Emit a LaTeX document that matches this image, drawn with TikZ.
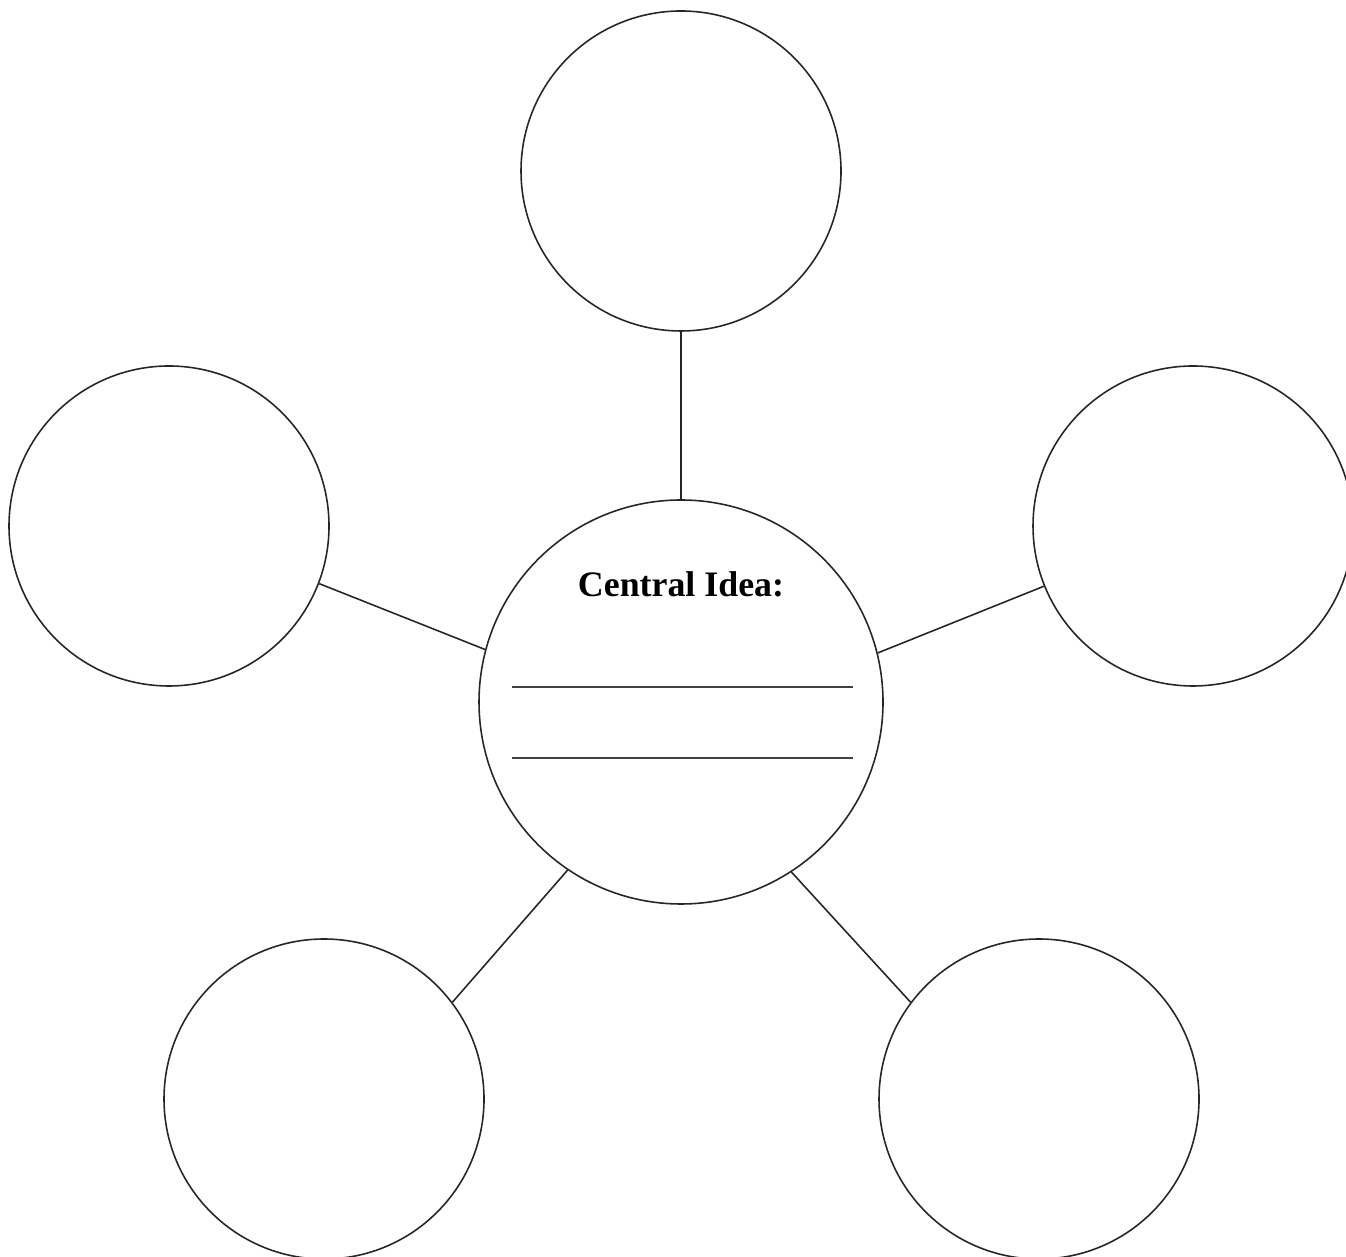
\documentclass[tikz,border=0pt]{standalone}
\usepackage{fontspec}
\setmainfont{Liberation Serif}
\usepackage{tikz}

\begin{document}
\begin{tikzpicture}[bubble/.style={draw=black!85, line width=0.45pt, circle, inner sep=0pt, minimum size=3.2cm}]
        \useasboundingbox (0,0) rectangle (13.46,12.56);
        \node[bubble, minimum size=4.04cm] (centre) at (6.81,5.54) {};
        \node[bubble] (top) at (6.81,10.85) {};
        \node[bubble] (west) at (1.69,7.30) {};
        \node[bubble] (east) at (11.93,7.30) {};
        \node[bubble] (southwest) at (3.24,1.57) {};
        \node[bubble] (southeast) at (10.39,1.57) {};
        \node[anchor=base] (title) at (6.81,6.59) {\fontsize{10.2}{12}\selectfont\bfseries Central Idea:};
        \draw[black!75, line width=0.6pt] (5.12,5.69) -- (8.53,5.69);
        \draw[black!75, line width=0.6pt] (5.12,4.98) -- (8.53,4.98);
        \draw[black!85, line width=0.45pt] (centre.90) -- (top.-90);
        \draw[black!85, line width=0.45pt] (centre.165.8) -- (west.-21.7);
        \draw[black!85, line width=0.45pt] (centre.14.4) -- (east.-158.5);
        \draw[black!85, line width=0.45pt] (centre.236.5) -- (southwest.37.9);
        \draw[black!85, line width=0.45pt] (centre.303.5) -- (southeast.143.1);
    \end{tikzpicture}
\end{document}
